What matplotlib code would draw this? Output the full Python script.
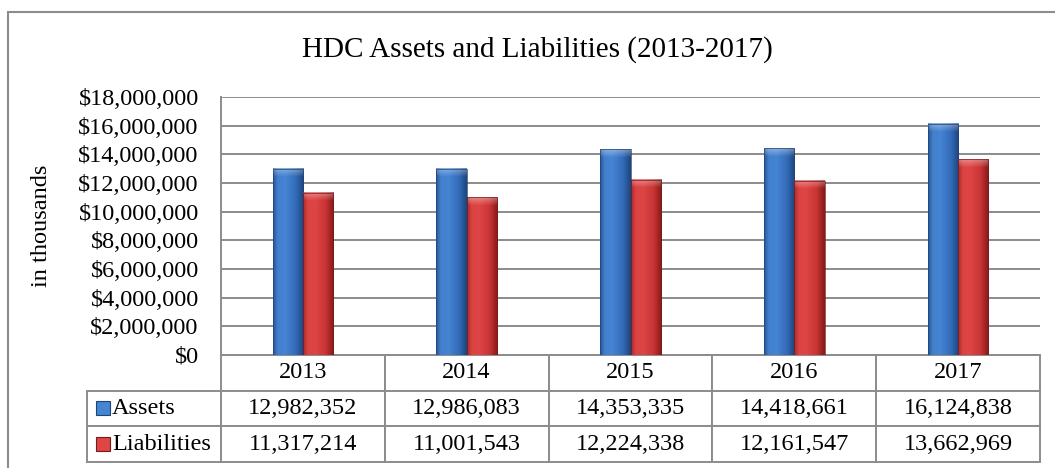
import numpy as np
import matplotlib
matplotlib.use("Agg")
import matplotlib.pyplot as plt
from matplotlib.patches import Rectangle
from matplotlib.ticker import FuncFormatter, MultipleLocator

plt.rcParams["font.family"] = ["Liberation Serif", "DejaVu Serif"]

# data (in thousands)
years = ["2013", "2014", "2015", "2016", "2017"]
series_names = ["Assets", "Liabilities"]
assets = [12982352, 12986083, 14353335, 14418661, 16124838]
liabilities = [11317214, 11001543, 12224338, 12161547, 13662969]

W, H = 1055, 468
grid_c = "#8c8c8c"
fs = 17.5

fig = plt.figure(figsize=(W / 100, H / 100), dpi=100)
ax = fig.add_axes([221 / W, 1 - 355 / H, 819 / W, 258 / H])

# horizontal shading across a bar: dark edge, highlight, body, dark edge
stops = [0.0, 0.15, 0.4, 0.75, 1.0]
blue_rgb = [(0.16, 0.34, 0.60), (0.26, 0.50, 0.80), (0.27, 0.52, 0.83),
            (0.20, 0.42, 0.72), (0.12, 0.27, 0.50)]
red_rgb = [(0.68, 0.17, 0.17), (0.86, 0.26, 0.26), (0.87, 0.27, 0.27),
           (0.78, 0.20, 0.20), (0.52, 0.10, 0.10)]
edge_cols = ["#1f4375", "#7a1a1a"]


def shade(cols, top_frac):
    xs = np.linspace(0, 1, 40)
    row = np.stack([np.interp(xs, stops, [c[i] for c in cols]) for i in range(3)], axis=-1)
    img = np.repeat(row[None, :, :], 200, axis=0)
    ys = np.linspace(0, 1, 200)
    t = np.clip(1 - ys / top_frac, 0, 1)[:, None, None]
    return img + (1 - img) * 0.35 * t


x = np.arange(len(years))
w = 0.185
top_band = 8 / 258 * 18e6

for vals, off, cols, ec in [(assets, -w / 2, blue_rgb, edge_cols[0]),
                            (liabilities, w / 2, red_rgb, edge_cols[1])]:
    bars = ax.bar(x + off, vals, w, facecolor="none", edgecolor=ec, lw=0.5, zorder=4)
    for b in bars:
        x0, h = b.get_x(), b.get_height()
        ax.imshow(shade(cols, top_band / h), extent=(x0, x0 + b.get_width(), 0, h),
                  origin="upper", aspect="auto", interpolation="bilinear", zorder=3)

ax.set_xlim(-0.5, 4.5)
ax.set_ylim(0, 18e6)
ax.yaxis.set_major_locator(MultipleLocator(2e6))
ax.yaxis.set_major_formatter(FuncFormatter(lambda v, p: f"${v:,.0f}"))
ax.tick_params(axis="y", length=0, pad=16, labelsize=fs)
ax.set_xticks([])
ax.yaxis.grid(True, color=grid_c, lw=1.4)
ax.set_axisbelow(True)
for s in ["top", "right", "bottom"]:
    ax.spines[s].set_visible(False)
ax.spines["left"].set_color(grid_c)
ax.spines["left"].set_linewidth(1.4)

ax.set_ylabel("in thousands", fontsize=fs)
ax.yaxis.set_label_coords((52 - 221) / 819, 0.5)

# data table under the plot
cell_text = [[""] + [f"{v:,}" for v in assets],
             [""] + [f"{v:,}" for v in liabilities]]
widths = np.array([134] + [164] * 5) / 954
tbl = ax.table(cellText=cell_text, colLabels=[""] + years, cellLoc="center",
               colWidths=list(widths),
               bbox=[(87 - 221) / 819, (355 - 462) / 258, 953 / 819, 107 / 258])
tbl.auto_set_font_size(False)
tbl.set_fontsize(fs)
for (r, c), cell in tbl.get_celld().items():
    cell.set_edgecolor(grid_c)
    cell.set_linewidth(1.4)
tbl[0, 0].visible_edges = "open"

# legend keys inside the table
row_y = [(355 - 408) / 258, (355 - 444) / 258]
key_cols = [blue_rgb[2], red_rgb[2]]
for name, yy, kc, ec in zip(series_names, row_y, key_cols, edge_cols):
    ax.add_patch(Rectangle(((96 - 221) / 819, yy - 7 / 258), 14 / 819, 14 / 258,
                           transform=ax.transAxes, facecolor=kc, edgecolor=ec,
                           lw=0.8, clip_on=False, zorder=5))
    ax.text((112 - 221) / 819, yy, name, transform=ax.transAxes, fontsize=fs,
            va="center", ha="left", zorder=5)

fig.text(537 / W, 1 - 50 / H, "HDC Assets and Liabilities (2013-2017)",
         fontsize=21, ha="center", va="center")

# chart area border
fig.add_artist(Rectangle((8 / W, -0.1), 1.2, 1 - 12 / H + 0.1, transform=fig.transFigure,
                         fill=False, edgecolor=grid_c, lw=1.5))

fig.savefig("out.png", dpi=100)
